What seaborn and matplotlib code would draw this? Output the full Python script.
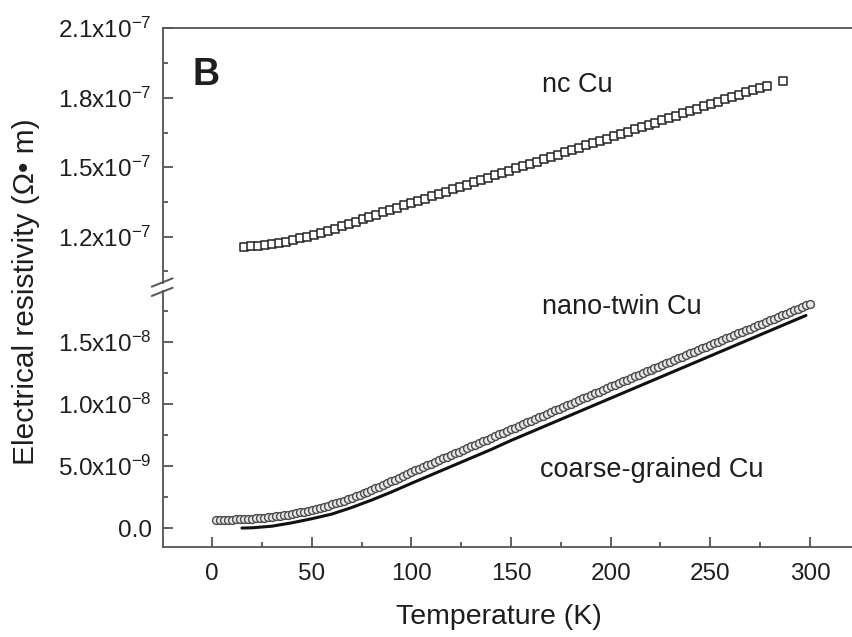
import matplotlib
matplotlib.use("Agg")
import matplotlib.pyplot as plt
import seaborn as sns
import pandas as pd
from matplotlib.lines import Line2D
from matplotlib.ticker import FixedLocator

# ---------------- data ----------------
nc_T = [16, 19.5, 23, 26.5, 30, 33.5, 37, 40.5, 44, 47.5, 51, 54.5, 58, 61.5, 65, 68.5,
        72, 75.5, 79, 82.5, 86, 89.5, 93, 96.5, 100, 103.5, 107, 110.5, 114, 117.5, 121,
        124.5, 128, 131.5, 135, 138.5, 142, 145.5, 149, 152.5, 156, 159.5, 163, 166.5,
        170, 173.5, 177, 180.5, 184, 187.5, 191, 194.5, 198, 201.5, 205, 208.5, 212,
        215.5, 219, 222.5, 226, 229.5, 233, 236.5, 240, 243.5, 247, 250.5, 254, 257.5,
        261, 264.5, 268, 271.5, 275, 278.5, 286.5]
nc_rho_e7 = [1.156, 1.158, 1.160, 1.163, 1.167, 1.172, 1.179, 1.186, 1.193, 1.200, 1.208,
             1.217, 1.226, 1.235, 1.245, 1.255, 1.265, 1.275, 1.286, 1.296, 1.306, 1.315,
             1.325, 1.335, 1.345, 1.355, 1.365, 1.375, 1.385, 1.395, 1.405, 1.415, 1.425,
             1.435, 1.445, 1.455, 1.465, 1.475, 1.485, 1.495, 1.504, 1.514, 1.524, 1.534,
             1.544, 1.554, 1.564, 1.574, 1.584, 1.594, 1.604, 1.614, 1.624, 1.634, 1.644,
             1.654, 1.664, 1.674, 1.683, 1.693, 1.703, 1.713, 1.723, 1.733, 1.743, 1.753,
             1.763, 1.773, 1.783, 1.793, 1.803, 1.813, 1.823, 1.833, 1.843, 1.853, 1.872]

twin_T = [2, 4, 6, 8, 10, 12, 14, 16, 18, 20, 22, 24, 26, 28, 30, 32, 34, 36, 38, 40,
          42, 44, 46, 48, 50, 52, 54, 56, 58, 60, 62, 64, 66, 68, 70, 72, 74, 76, 78, 80,
          82, 84, 86, 88, 90, 92, 94, 96, 98, 100, 102, 104, 106, 108, 110, 112, 114, 116,
          118, 120, 122, 124, 126, 128, 130, 132, 134, 136, 138, 140, 142, 144, 146, 148,
          150, 152, 154, 156, 158, 160, 162, 164, 166, 168, 170, 172, 174, 176, 178, 180,
          182, 184, 186, 188, 190, 192, 194, 196, 198, 200, 202, 204, 206, 208, 210, 212,
          214, 216, 218, 220, 222, 224, 226, 228, 230, 232, 234, 236, 238, 240, 242, 244,
          246, 248, 250, 252, 254, 256, 258, 260, 262, 264, 266, 268, 270, 272, 274, 276,
          278, 280, 282, 284, 286, 288, 290, 292, 294, 296, 298, 300]
twin_rho_e9 = [0.67, 0.67, 0.67, 0.68, 0.68, 0.69, 0.70, 0.71, 0.73, 0.75, 0.78, 0.80, 0.83,
               0.86, 0.90, 0.94, 0.99, 1.03, 1.08, 1.13, 1.19, 1.26, 1.32, 1.39, 1.46, 1.54,
               1.63, 1.71, 1.80, 1.90, 2.00, 2.10, 2.21, 2.32, 2.43, 2.55, 2.67, 2.79, 2.92,
               3.05, 3.19, 3.33, 3.47, 3.61, 3.75, 3.90, 4.05, 4.20, 4.35, 4.50, 4.64, 4.78,
               4.91, 5.05, 5.19, 5.33, 5.47, 5.60, 5.74, 5.88, 6.02, 6.16, 6.29, 6.43, 6.57,
               6.71, 6.85, 6.98, 7.12, 7.26, 7.40, 7.54, 7.67, 7.81, 7.95, 8.09, 8.23, 8.36,
               8.50, 8.64, 8.78, 8.92, 9.05, 9.19, 9.33, 9.47, 9.61, 9.74, 9.88, 10.02,
               10.16, 10.30, 10.43, 10.57, 10.71, 10.85, 10.99, 11.12, 11.26, 11.40, 11.53,
               11.67, 11.80, 11.93, 12.07, 12.20, 12.33, 12.46, 12.60, 12.73, 12.86, 13.00,
               13.13, 13.26, 13.40, 13.53, 13.66, 13.79, 13.93, 14.06, 14.19, 14.33, 14.46,
               14.59, 14.73, 14.86, 14.99, 15.12, 15.26, 15.39, 15.52, 15.66, 15.79, 15.92,
               16.06, 16.19, 16.32, 16.45, 16.59, 16.72, 16.85, 16.99, 17.12, 17.25, 17.39,
               17.52, 17.65, 17.78, 17.92, 18.05]

cg_T = [15, 20, 30, 40, 50, 60, 70, 80, 90, 100, 110, 120, 130, 140, 150, 160, 170, 180,
        190, 200, 210, 220, 230, 240, 250, 260, 270, 280, 290, 298]
cg_rho_e9 = [0.0, 0.02, 0.15, 0.42, 0.75, 1.12, 1.65, 2.25, 2.9, 3.6, 4.28, 4.96, 5.64,
             6.32, 7.05, 7.73, 8.41, 9.09, 9.77, 10.45, 11.13, 11.81, 12.49, 13.17, 13.85,
             14.53, 15.21, 15.89, 16.57, 17.11]

x_ticks = [0, 50, 100, 150, 200, 250, 300]
x_tick_labels = ["0", "50", "100", "150", "200", "250", "300"]
top_ticks = [1.2e-7, 1.5e-7, 1.8e-7, 2.1e-7]
top_tick_labels = [r"1.2x10$^{-7}$", r"1.5x10$^{-7}$", r"1.8x10$^{-7}$", r"2.1x10$^{-7}$"]
bottom_ticks = [0.0, 5e-9, 1e-8, 1.5e-8]
bottom_tick_labels = ["0.0", r"5.0x10$^{-9}$", r"1.0x10$^{-8}$", r"1.5x10$^{-8}$"]

# ---------------- style ----------------
sns.set_theme(style="white")
plt.rcParams["font.family"] = ["Liberation Sans", "DejaVu Sans"]
plt.rcParams["mathtext.fontset"] = "custom"
plt.rcParams["mathtext.rm"] = "Liberation Sans"
plt.rcParams["mathtext.it"] = "Liberation Sans:italic"
plt.rcParams["mathtext.bf"] = "Liberation Sans:bold"

W, H = 853, 637
fig = plt.figure(figsize=(W / 100, H / 100), dpi=100)

left_px, right_px = 163, 853
top_px, mid_px, bot_px = 28.3, 287.0, 546.7
ax_top = fig.add_axes([left_px / W, 1 - mid_px / H, (right_px - left_px) / W, (mid_px - top_px) / H])
ax_bot = fig.add_axes([left_px / W, 1 - bot_px / H, (right_px - left_px) / W, (bot_px - mid_px) / H])

spine_col = "#555555"
text_col = "#1e1e1e"
xlim = (-24.6, 321.6)

# top panel : nc Cu
df_nc = pd.DataFrame({"T": nc_T, "rho": [v * 1e-7 for v in nc_rho_e7]})
sns.scatterplot(data=df_nc, x="T", y="rho", ax=ax_top, marker="s", s=27,
                facecolor="white", edgecolor="#222222", linewidth=1.1, zorder=3)
ax_top.set_xlim(*xlim)
ax_top.set_ylim(0.983e-7, 2.1e-7)

# bottom panel : nano-twin + coarse-grained
df_tw = pd.DataFrame({"T": twin_T, "rho": [v * 1e-9 for v in twin_rho_e9]})
df_cg = pd.DataFrame({"T": cg_T, "rho": [v * 1e-9 for v in cg_rho_e9]})
sns.lineplot(data=df_cg, x="T", y="rho", ax=ax_bot, color="#111111", linewidth=2.2, zorder=2)
sns.scatterplot(data=df_tw, x="T", y="rho", ax=ax_bot, marker="o", s=32,
                facecolor="#e8e8e8", edgecolor="#4a4a4a", linewidth=1.0, zorder=3)
ax_bot.set_xlim(*xlim)
ax_bot.set_ylim(-1.5e-9, 19.4e-9)

for ax in (ax_top, ax_bot):
    ax.set_xlabel("")
    ax.set_ylabel("")
    ax.set_facecolor("white")
    ax.spines["right"].set_visible(False)
    for sp in ax.spines.values():
        sp.set_color(spine_col)
        sp.set_linewidth(1.3)
    ax.tick_params(which="both", direction="in", colors=spine_col, labelcolor=text_col,
                   labelsize=17.5, width=1.3, left=True)
    ax.tick_params(which="major", length=7.2)
    ax.tick_params(which="minor", length=3.8)
    ax.tick_params(axis="y", pad=8)

ax_top.spines["bottom"].set_visible(False)
ax_bot.spines["top"].set_visible(False)
ax_top.tick_params(axis="x", which="both", bottom=False, top=False, labelbottom=False)
ax_bot.tick_params(axis="x", which="both", bottom=True, top=False)

ax_top.yaxis.set_major_locator(FixedLocator(top_ticks))
ax_top.set_yticklabels(top_tick_labels)
ax_top.yaxis.set_minor_locator(FixedLocator([1.05e-7, 1.35e-7, 1.65e-7, 1.95e-7]))

ax_bot.yaxis.set_major_locator(FixedLocator(bottom_ticks))
ax_bot.set_yticklabels(bottom_tick_labels)
ax_bot.yaxis.set_minor_locator(FixedLocator([2.5e-9, 7.5e-9, 1.25e-8, 1.75e-8]))

ax_bot.xaxis.set_major_locator(FixedLocator(x_ticks))
ax_bot.set_xticklabels(x_tick_labels)
ax_bot.xaxis.set_minor_locator(FixedLocator([25, 75, 125, 175, 225, 275]))
ax_bot.tick_params(axis="x", pad=12)

# axis break: leave a small gap in the left spine and draw two slashes
ax_top.spines["left"].set_bounds(1.0003e-7, 2.1e-7)
ax_bot.spines["left"].set_bounds(-1.5e-9, 19.07e-9)
for y0, y1 in ((286.7, 278.3), (296.0, 287.7)):
    fig.add_artist(Line2D([151.7 / W, 172.7 / W], [1 - y0 / H, 1 - y1 / H],
                          color=spine_col, linewidth=1.4, transform=fig.transFigure))

# annotations
ax_top.text(0.043, 0.82, "B", transform=ax_top.transAxes, fontsize=27,
            fontweight="bold", color=text_col, ha="left", va="center")
ax_top.text(165.4, 1.855e-7, "nc Cu", fontsize=19.5, color=text_col, ha="left", va="center")
ax_bot.text(165.4, 17.8e-9, "nano-twin Cu", fontsize=19.5, color=text_col, ha="left", va="center")
ax_bot.text(164.6, 4.66e-9, "coarse-grained Cu", fontsize=19.5, color=text_col,
            ha="left", va="center")

fig.text(26 / W, 1 - 292 / H, "Electrical resistivity (\u03a9\u2022 m)", rotation=90,
         fontsize=21.5, color=text_col, ha="center", va="center")
fig.text(499 / W, 1 - 617 / H, "Temperature (K)", fontsize=20.5, color=text_col,
         ha="center", va="center")

fig.savefig("out.png", dpi=100, facecolor="white")
